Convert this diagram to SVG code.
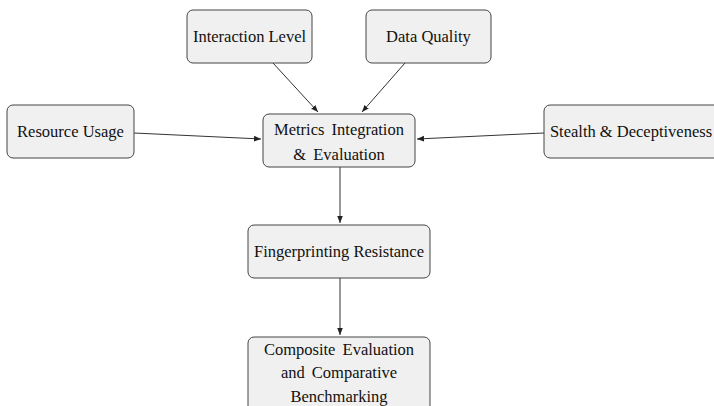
<svg xmlns="http://www.w3.org/2000/svg" width="714" height="406" viewBox="0 0 714 406">
<defs>
<marker id="ah" viewBox="0 0 10 10" refX="10" refY="5" markerWidth="7" markerHeight="7" orient="auto" markerUnits="userSpaceOnUse">
<path d="M0,1 L10,5 L0,9 z" fill="#222"/>
</marker>
<style>
.box{fill:#f0f0f0;stroke:#444;stroke-width:1}
.t{font-size:16.5px;fill:#111;text-anchor:middle}
.c{stroke:#333;stroke-width:1;fill:none;marker-end:url(#ah)}
</style>
</defs>
<rect width="714" height="406" fill="#fff"/>
<g id="connectors">
<line class="c" x1="273" y1="63" x2="318" y2="112"/>
<line class="c" x1="405" y1="63" x2="362" y2="112"/>
<line class="c" x1="134" y1="133" x2="261" y2="139"/>
<line class="c" x1="544" y1="133" x2="417" y2="139"/>
<line class="c" x1="340" y1="167" x2="340" y2="223"/>
<line class="c" x1="340" y1="278" x2="340" y2="335"/>
</g>
<g font-family="Liberation Serif, Times New Roman, serif">
<g id="interaction">
<rect class="box" x="187" y="10" width="125" height="53" rx="6"/>
<text class="t" x="249.5" y="42">Interaction Level</text>
</g>
<g id="dataquality">
<rect class="box" x="366" y="10" width="125" height="53" rx="6"/>
<text class="t" x="428.5" y="42">Data Quality</text>
</g>
<g id="resource">
<rect class="box" x="7" y="105" width="127" height="53" rx="6"/>
<text class="t" x="70.5" y="137">Resource Usage</text>
</g>
<g id="stealth">
<rect class="box" x="544" y="105" width="180" height="53" rx="6"/>
<text class="t" x="631" y="137">Stealth &amp; Deceptiveness</text>
</g>
<g id="metrics">
<rect class="box" x="263" y="114" width="152" height="53" rx="6"/>
<text class="t" x="339" y="135" word-spacing="3">Metrics Integration</text>
<text class="t" x="339" y="160" word-spacing="3">&amp; Evaluation</text>
</g>
<g id="fingerprinting">
<rect class="box" x="248" y="225" width="182" height="53" rx="6"/>
<text class="t" x="339" y="256.5">Fingerprinting Resistance</text>
</g>
<g id="composite">
<rect class="box" x="248" y="337" width="182" height="80" rx="6"/>
<text class="t" x="339" y="355" word-spacing="3">Composite Evaluation</text>
<text class="t" x="339" y="378" word-spacing="3">and Comparative</text>
<text class="t" x="339" y="402">Benchmarking</text>
</g>
</g>
</svg>
